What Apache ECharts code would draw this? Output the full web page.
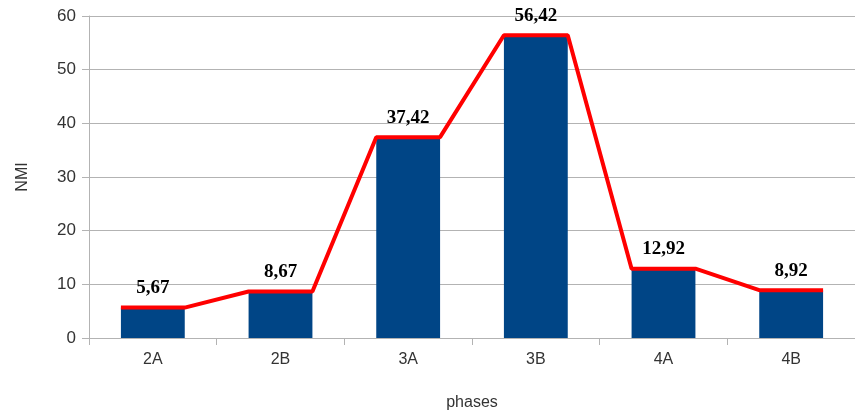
<!DOCTYPE html>
<html>
<head>
<meta charset="utf-8">
<script src="https://cdn.jsdelivr.net/npm/echarts@6/dist/echarts.min.js"></script>
<style>
html,body{margin:0;padding:0;background:#fff;}
#chart{width:855px;height:416px;}
</style>
</head>
<body>
<div id="chart"></div>
<script>
const categories = ['2A', '2B', '3A', '3B', '4A', '4B'];
const values = [5.67, 8.67, 37.42, 56.42, 12.92, 8.92];
const yTicks = [0, 10, 20, 30, 40, 50, 60];

const half = 0.25; // half of bar width in category units (bar width 50%)
const lineData = [];
values.forEach((v, i) => {
  lineData.push([i - half, v]);
  lineData.push([i + half, v]);
});

const chart = echarts.init(document.getElementById('chart'));
chart.setOption({
  animation: false,
  backgroundColor: '#ffffff',
  grid: { left: 89, top: 16, width: 771, height: 323, containLabel: false },
  xAxis: [
    {
      type: 'category',
      data: categories,
      name: 'phases',
      nameLocation: 'middle',
      nameGap: 57,
      nameTextStyle: { color: '#333', fontSize: 16, fontFamily: 'Liberation Sans' },
      axisLine: { show: true, onZero: false, lineStyle: { color: '#b3b3b3', width: 1 } },
      axisTick: { show: true, length: 7, lineStyle: { color: '#b3b3b3' } },
      axisLabel: { color: '#333', fontSize: 16, fontFamily: 'Liberation Sans', margin: 14 },
      splitLine: { show: false }
    },
    {
      type: 'value',
      min: -0.5,
      max: categories.length - 0.5,
      show: false,
      splitLine: { show: false },
      axisLine: { show: false, onZero: false },
      axisTick: { show: false },
      axisLabel: { show: false }
    }
  ],
  yAxis: {
    type: 'value',
    min: yTicks[0],
    max: yTicks[yTicks.length - 1],
    interval: 10,
    name: 'NMI',
    nameLocation: 'middle',
    nameGap: 58,
    nameTextStyle: { color: '#333', fontSize: 16, fontFamily: 'Liberation Sans' },
    axisLine: { show: true, onZero: false, lineStyle: { color: '#b3b3b3', width: 1 } },
    axisTick: { show: true, length: 7, lineStyle: { color: '#b3b3b3' } },
    axisLabel: { color: '#333', fontSize: 17, fontFamily: 'Liberation Sans', margin: 13 },
    splitLine: { show: true, lineStyle: { color: '#b3b3b3', width: 1 } }
  },
  series: [
    {
      type: 'bar',
      data: values,
      barWidth: '50%',
      itemStyle: { color: '#004586' },
      label: {
        show: true,
        position: 'top',
        distance: 10,
        fontFamily: 'Liberation Serif',
        fontWeight: 'bold',
        fontSize: 19,
        color: '#000',
        formatter: p => String(p.value).replace('.', ',')
      },
      z: 2
    },
    {
      type: 'line',
      xAxisIndex: 1,
      data: lineData,
      symbol: 'none',
      lineStyle: { color: '#ff0000', width: 4 },
      z: 3
    }
  ]
});
</script>
</body>
</html>
